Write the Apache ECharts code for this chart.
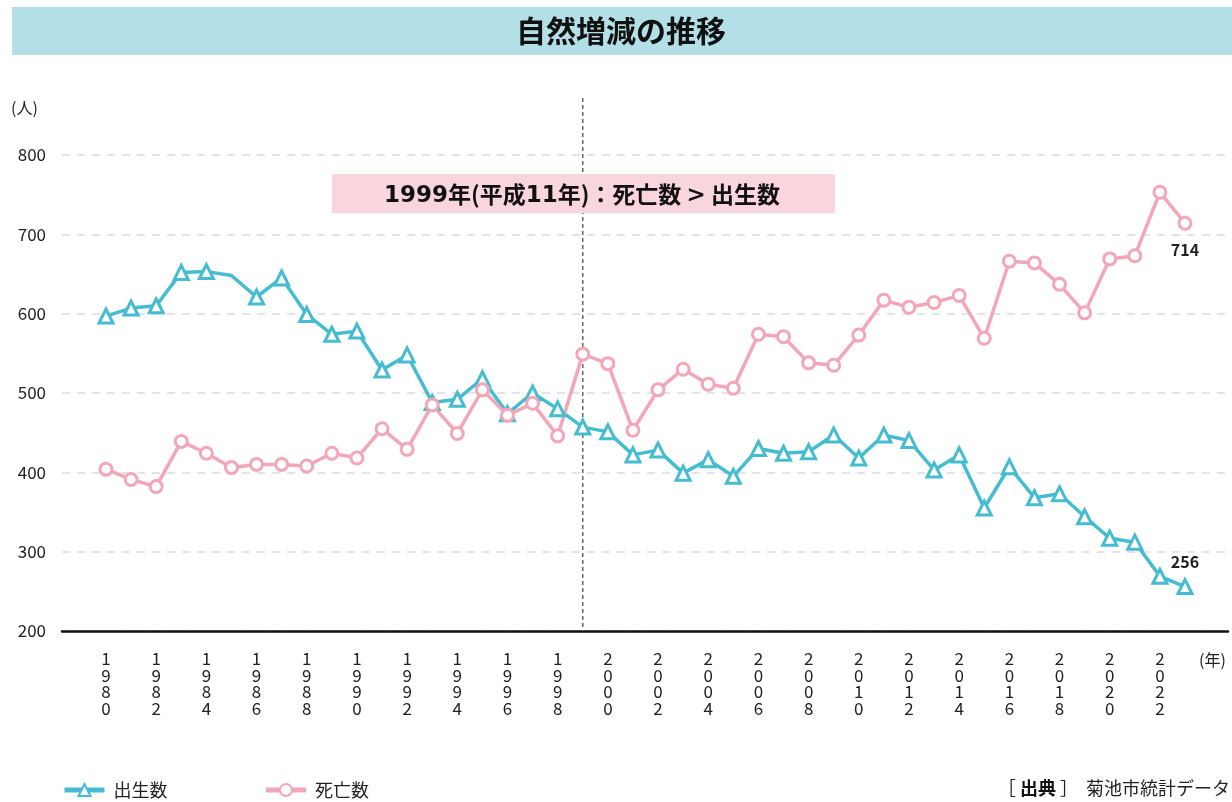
<!DOCTYPE html>
<html><head><meta charset="utf-8">
<script src="https://cdn.jsdelivr.net/npm/echarts@6/dist/echarts.min.js"></script>
<style>html,body{margin:0;padding:0;background:#fff}#c{width:1232px;height:802px}</style>
</head><body><div id="c"></div>
<script>
const years = ['1980','1981','1982','1983','1984','1985','1986','1987','1988','1989',
  '1990','1991','1992','1993','1994','1995','1996','1997','1998','1999',
  '2000','2001','2002','2003','2004','2005','2006','2007','2008','2009',
  '2010','2011','2012','2013','2014','2015','2016','2017','2018','2019',
  '2020','2021','2022','2023'];
const births = [597,607,610,652,653,648,621,645,599,574,
  578,529,548,488,492,518,474,500,480,457,
  451,422,428,399,416,395,430,424,426,447,
  418,447,440,403,422,355,407,368,373,344,
  317,312,269,256];
const deaths = [404,391,382,439,424,406,410,410,408,424,
  418,455,429,485,449,504,472,487,446,549,
  537,453,504,530,511,506,574,571,538,535,
  573,617,608,614,623,569,666,664,637,601,
  669,673,753,714];
const birthNoMarkerYears = ['1985'];
const markerYear = '1999';
const yMin = 200, yMax = 800, yStep = 100;
const titleText = '自然増減の推移';

const FONT = '"Noto Sans CJK JP", "Noto Sans", sans-serif';
const BLUE = '#45bccf';
const PINK = '#f4a6b9';

const chart = echarts.init(document.getElementById('c'), null, {renderer: 'canvas'});

const birthData = births.map((v, i) => {
  const item = {value: v};
  if (birthNoMarkerYears.includes(years[i])) item.symbol = 'none';
  if (i === births.length - 1) item.label = {show: true, position: 'top', distance: 8};
  return item;
});
const deathData = deaths.map((v, i) => {
  const item = {value: v};
  if (i === deaths.length - 1) item.label = {show: true, position: 'bottom', distance: 11};
  return item;
});

const option = {
  animation: false,
  textStyle: {fontFamily: FONT},
  grid: [
    {left: 62, right: 4, top: 155, bottom: 171},
    {left: 106, right: 47, top: 155, bottom: 171}
  ],
  xAxis: [
    {gridIndex: 0, type: 'value', min: 0, max: 1, axisLabel: {show: false}, axisTick: {show: false},
     splitLine: {show: false}, axisLine: {show: true, lineStyle: {color: '#111', width: 2.5}}},
    {gridIndex: 1, type: 'category', data: years, boundaryGap: false,
     axisLine: {show: false}, axisTick: {show: false}, splitLine: {show: false},
     axisLabel: {interval: 1, margin: 19, fontSize: 17, lineHeight: 16.7, color: '#222', fontFamily: FONT,
       formatter: v => v.split('').join('\n')}}
  ],
  yAxis: [
    {gridIndex: 0, type: 'value', min: yMin, max: yMax, interval: yStep,
     axisLine: {show: false}, axisTick: {show: false},
     axisLabel: {fontSize: 17, color: '#222', margin: 16, fontFamily: FONT},
     splitLine: {show: true, lineStyle: {color: '#d8dde3', width: 1.5, type: [8, 7]}}},
    {gridIndex: 1, type: 'value', min: yMin, max: yMax, interval: yStep, show: false,
     splitLine: {show: false}}
  ],
  legend: {
    left: 57, top: 776, itemWidth: 40, itemHeight: 15, itemGap: 96,
    lineStyle: {width: 5},
    textStyle: {fontSize: 18, color: '#222', fontFamily: FONT, padding: [0, 0, 0, 4]},
    data: ['出生数', '死亡数']
  },
  series: [
    {name: '出生数', type: 'line', xAxisIndex: 1, yAxisIndex: 1, data: birthData,
     symbol: 'triangle', symbolSize: 14, showAllSymbol: true,
     lineStyle: {color: BLUE, width: 3.5},
     itemStyle: {color: '#fff', borderColor: BLUE, borderWidth: 3},
     label: {show: false, fontSize: 16, color: '#222', fontWeight: 'bold', fontFamily: FONT}},
    {name: '死亡数', type: 'line', xAxisIndex: 1, yAxisIndex: 1, data: deathData,
     symbol: 'circle', symbolSize: 12, showAllSymbol: true,
     lineStyle: {color: PINK, width: 3.5},
     itemStyle: {color: '#fff', borderColor: PINK, borderWidth: 3},
     label: {show: false, fontSize: 16, color: '#222', fontWeight: 'bold', fontFamily: FONT}}
  ]
};
chart.setOption(option);

const mx = chart.convertToPixel({xAxisIndex: 1}, markerYear);
const yBottom = chart.convertToPixel({yAxisIndex: 1}, yMin);

chart.setOption({
  graphic: [
    {type: 'rect', left: 12, top: 7, shape: {width: 1220, height: 48}, style: {fill: '#b3dfe7'}, z: 10},
    {type: 'text', x: 621, y: 31, z: 11, style: {text: titleText, fontSize: 30, fontWeight: 'bold', fill: '#111',
      fontFamily: FONT, align: 'center', verticalAlign: 'middle'}},
    {type: 'text', x: 11, y: 108, z: 11, style: {text: '(人)', fontSize: 16, fill: '#222', fontFamily: FONT, verticalAlign: 'middle'}},
    {type: 'text', x: 1199, y: 660, z: 11, style: {text: '(年)', fontSize: 16, fill: '#222', fontFamily: FONT, verticalAlign: 'middle'}},
    {type: 'line', z: 1, shape: {x1: mx, y1: 98, x2: mx, y2: yBottom},
     style: {stroke: '#666', lineWidth: 1.5, lineDash: [4, 3]}},
    {type: 'rect', z: 5, left: 332, top: 174, shape: {width: 503, height: 39}, style: {fill: '#f9d5de'}},
    {type: 'text', z: 6, x: 582, y: 194, style: {
      text: '{d|1999}{c|年(平成}{d|11}{c|年)：死亡数 }{d|>}{c| 出生数}',
      align: 'center', verticalAlign: 'middle',
      rich: {
        c: {fontSize: 23, fontWeight: 'bold', fill: '#111', fontFamily: FONT},
        d: {fontSize: 23, fontWeight: 'bold', fill: '#111', fontFamily: '"DejaVu Sans", sans-serif', padding: [4, 0, 0, 0]}
      }}},
    {type: 'text', z: 11, x: 1230, y: 788, style: {
      text: '{a|［ }{b|出典}{a| ］  菊池市統計データ}', align: 'right', verticalAlign: 'middle',
      rich: {a: {fontSize: 18, fill: '#222', fontFamily: FONT}, b: {fontSize: 18, fontWeight: 'bold', fill: '#111', fontFamily: FONT}}}}
  ]
});
</script>
</body></html>
